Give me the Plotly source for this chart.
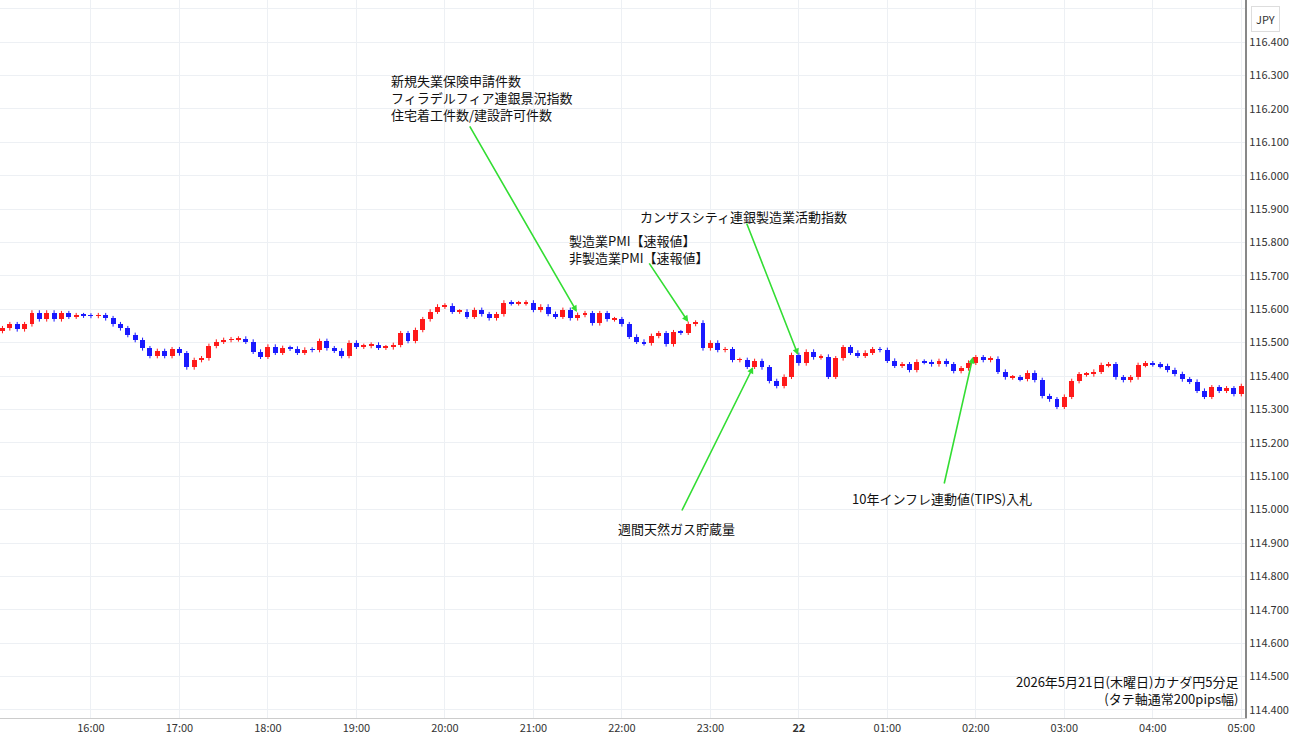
import plotly.graph_objects as go
import pandas as pd

start = "2026-05-21 15:00"
closes = [
115.543,115.555,115.540,115.555,115.590,115.570,115.590,115.570,115.588,115.578,
115.582,115.581,115.580,115.582,115.573,115.555,115.543,115.523,115.508,115.483,
115.460,115.475,115.460,115.480,115.468,115.426,115.448,115.453,115.490,115.503,
115.508,115.510,115.512,115.503,115.473,115.458,115.488,115.470,115.484,115.482,
115.470,115.479,115.478,115.505,115.483,115.476,115.460,115.500,115.488,115.490,
115.494,115.485,115.486,115.493,115.528,115.505,115.538,115.570,115.593,115.608,
115.611,115.593,115.593,115.578,115.598,115.585,115.573,115.585,115.620,115.618,
115.618,115.620,115.598,115.608,115.586,115.578,115.598,115.573,115.583,115.588,
115.558,115.588,115.570,115.570,115.555,115.518,115.503,115.498,115.520,115.528,
115.495,115.531,115.530,115.556,115.560,115.483,115.500,115.478,115.480,115.448,
115.448,115.428,115.445,115.426,115.385,115.370,115.398,115.463,115.438,115.473,
115.456,115.458,115.398,115.453,115.486,115.470,115.461,115.470,115.480,115.478,
115.446,115.431,115.435,115.418,115.443,115.442,115.435,115.445,115.435,115.415,
115.423,115.440,115.456,115.448,115.452,115.413,115.396,115.396,115.391,115.410,
115.388,115.340,115.330,115.308,115.338,115.385,115.405,115.405,115.413,115.433,
115.435,115.396,115.388,115.396,115.433,115.438,115.435,115.430,115.418,115.406,
115.390,115.383,115.356,115.338,115.366,115.356,115.363,115.346,115.370]
first_open = 115.535
wick = 0.007

times = pd.date_range(start, periods=len(closes), freq="5min")
opens = [first_open] + closes[:-1]
highs = [max(o, c) + wick for o, c in zip(opens, closes)]
lows = [min(o, c) - wick for o, c in zip(opens, closes)]

tick_times = pd.date_range("2026-05-21 16:00", periods=14, freq="1h")
tick_labels = ["16:00","17:00","18:00","19:00","20:00","21:00","22:00","23:00",
               "<b>22</b>","01:00","02:00","03:00","04:00","05:00"]

RED, BLUE = "#ff1a1a", "#1a1aff"
fig = go.Figure()
for up, col in ((True, RED), (False, BLUE)):
    wx, wy, bx, bb, bh = [], [], [], [], []
    for t, o, h, l, c in zip(times, opens, highs, lows, closes):
        if (c >= o) != up:
            continue
        wx += [t, t, None]
        wy += [l, h, None]
        bx.append(t)
        bb.append(min(o, c))
        bh.append(max(abs(c - o), 0.0025))
    fig.add_trace(go.Scatter(x=wx, y=wy, mode="lines", line=dict(color=col, width=1),
                             showlegend=False, hoverinfo="skip"))
    fig.add_trace(go.Bar(x=bx, y=bh, base=bb, width=200000, marker=dict(color=col, line=dict(width=0)),
                         showlegend=False))

FONT = "Noto Sans CJK JP"
fig.update_layout(
    width=1300, height=745, margin=dict(l=0, r=55, t=0, b=27, autoexpand=False),
    paper_bgcolor="white", plot_bgcolor="white", bargap=0,
    font=dict(family=FONT, size=13, color="#111"),
    xaxis=dict(range=["2026-05-21 14:58:20", "2026-05-22 05:02:30"],
               tickvals=tick_times, ticktext=tick_labels, showgrid=True, gridcolor="#edf0f4",
               tickfont=dict(size=11, color="#333"), showline=True, linecolor="#ccc", ticks=""),
    yaxis=dict(side="right", range=[114.376, 116.526], dtick=0.1, tick0=114.4, tickformat=".3f",
               showgrid=True, gridcolor="#edf0f4", tickfont=dict(size=11, color="#333"),
               showline=True, linecolor="#888", linewidth=2, ticks=""),
)

GREEN = "#33dd33"
arrows = [
    ("2026-05-21 21:29:30", 115.592, -108, -187),
    ("2026-05-21 22:45", 115.562, -40, -60),
    ("2026-05-21 23:59:30", 115.463, -52, -133),
    ("2026-05-21 23:29", 115.427, -72, 145),
    ("2026-05-22 01:58", 115.457, -29, 128),
]
for x, y, ax, ay in arrows:
    fig.add_annotation(x=x, y=y, ax=ax, ay=ay, text="", showarrow=True, arrowcolor=GREEN,
                       arrowwidth=1.6, arrowhead=2, arrowsize=0.8)

texts = [
    ("2026-05-21 19:22", 116.32, "新規失業保険申請件数<br>フィラデルフィア連銀景況指数<br>住宅着工件数/建設許可件数"),
    ("2026-05-21 21:22:40", 115.84, "製造業PMI【速報値】<br>非製造業PMI【速報値】"),
    ("2026-05-21 22:11", 115.912, "カンザスシティ連銀製造業活動指数"),
    ("2026-05-21 21:56", 114.978, "週間天然ガス貯蔵量"),
    ("2026-05-22 00:35", 115.068, "10年インフレ連動値(TIPS)入札"),
]
for x, y, t in texts:
    fig.add_annotation(x=x, y=y, text=t, showarrow=False, xanchor="left", yanchor="top",
                       align="left", font=dict(size=13, family=FONT, color="#111"))

fig.add_annotation(x=0.997, xref="paper", y=114.46, text="2026年5月21日(木曜日)カナダ円5分足<br>(タテ軸通常200pips幅)",
                   showarrow=False, xanchor="right", yanchor="middle", align="right",
                   font=dict(size=13, family=FONT, color="#111"))
fig.add_annotation(x=1.0, xref="paper", xanchor="left", xshift=6, y=1, yref="paper", yanchor="top", yshift=-6,
                   text="JPY", showarrow=False, font=dict(size=11, color="#333"),
                   bordercolor="#ddd", borderwidth=1, borderpad=4, bgcolor="white")

fig.write_html("out.html", config={"displayModeBar": False},
               post_script="document.body.style.margin='0';")
